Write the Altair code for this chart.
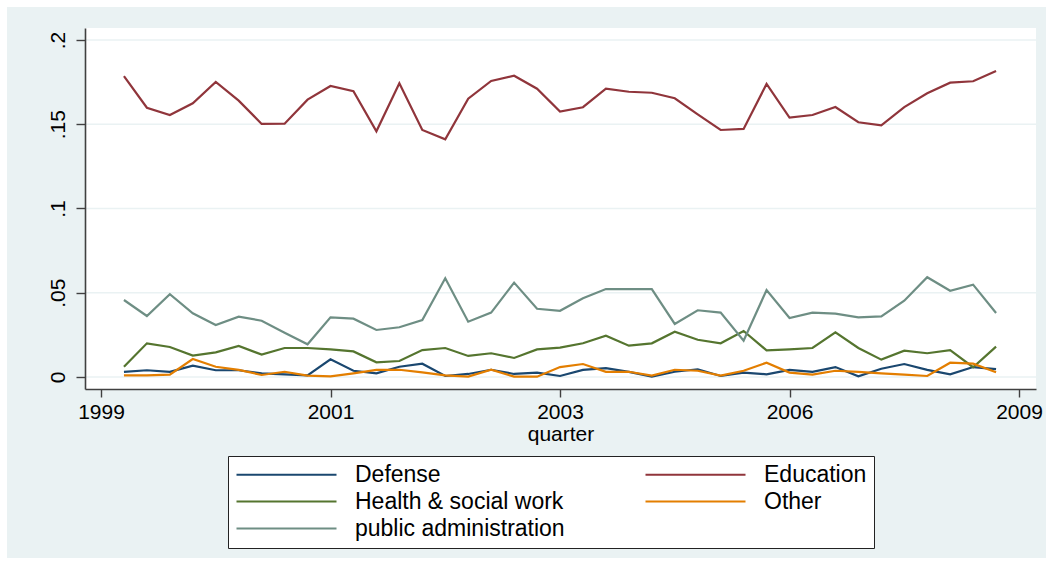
import altair as alt
import pandas as pd

# quarter index (0 = first labelled tick)
quarters = list(range(1, 40))

defense = [0.0031, 0.0040, 0.0031, 0.0067, 0.0040, 0.0040, 0.0022, 0.0016, 0.0010, 0.0105, 0.0037, 0.0022, 0.0061,
           0.0079, 0.0006, 0.0018, 0.0043, 0.0018, 0.0026, 0.0006, 0.0042, 0.0053, 0.0030, 0.0002, 0.0031, 0.0046,
           0.0006, 0.0026, 0.0016, 0.0042, 0.0030, 0.0059, 0.0004, 0.0049, 0.0077, 0.0042, 0.0016, 0.0059, 0.0047]
education = [0.1786, 0.1598, 0.1555, 0.1624, 0.1751, 0.1640, 0.1502, 0.1503, 0.1646, 0.1727, 0.1696, 0.1458, 0.1743,
             0.1466, 0.1411, 0.1652, 0.1757, 0.1788, 0.1711, 0.1575, 0.1601, 0.1711, 0.1693, 0.1687, 0.1654, 0.1559,
             0.1466, 0.1472, 0.1739, 0.1539, 0.1555, 0.1602, 0.1512, 0.1494, 0.1602, 0.1684, 0.1747, 0.1755, 0.1816]
health = [0.0061, 0.0200, 0.0178, 0.0127, 0.0146, 0.0184, 0.0133, 0.0172, 0.0172, 0.0164, 0.0152, 0.0087, 0.0095,
          0.0160, 0.0172, 0.0125, 0.0141, 0.0113, 0.0164, 0.0174, 0.0200, 0.0245, 0.0186, 0.0200, 0.0269, 0.0221,
          0.0200, 0.0273, 0.0158, 0.0164, 0.0172, 0.0265, 0.0172, 0.0103, 0.0156, 0.0141, 0.0160, 0.0058, 0.0180]
other = [0.0010, 0.0010, 0.0014, 0.0107, 0.0061, 0.0042, 0.0012, 0.0031, 0.0008, 0.0004, 0.0022, 0.0042, 0.0043,
         0.0028, 0.0010, 0.0002, 0.0043, 0.0002, 0.0002, 0.0059, 0.0077, 0.0031, 0.0031, 0.0008, 0.0043, 0.0037,
         0.0008, 0.0037, 0.0085, 0.0026, 0.0014, 0.0037, 0.0030, 0.0022, 0.0014, 0.0006, 0.0085, 0.0079, 0.0028]
public_admin = [0.0457, 0.0362, 0.0491, 0.0378, 0.0309, 0.0358, 0.0334, 0.0263, 0.0194, 0.0354, 0.0346, 0.0279, 0.0295,
                0.0338, 0.0586, 0.0328, 0.0382, 0.0560, 0.0405, 0.0393, 0.0467, 0.0522, 0.0522, 0.0522, 0.0315, 0.0396,
                0.0382, 0.0215, 0.0516, 0.0350, 0.0382, 0.0376, 0.0354, 0.0360, 0.0453, 0.0592, 0.0512, 0.0548, 0.0380]

series_names = ["Defense", "Education", "Health & social work", "Other", "public administration"]
series_colors = ["#1a476f", "#90353b", "#55752f", "#e37e00", "#6e8e84"]

x_tick_values = [0, 10, 20, 30, 40]
x_tick_labels = ["1999", "2001", "2003", "2006", "2009"]
y_tick_values = [0, 0.05, 0.1, 0.15, 0.2]
y_tick_labels = ["0", ".05", ".1", ".15", ".2"]

rows = []
for name, vals in zip(series_names, [defense, education, health, other, public_admin]):
    for q, v in zip(quarters, vals):
        rows.append({"quarter": q, "share": v, "sector": name})
df = pd.DataFrame(rows)


def label_expr(values, labels):
    expr = "''"
    for v, l in reversed(list(zip(values, labels))):
        expr = f"abs(datum.value - {v}) < 1e-9 ? '{l}' : ({expr})"
    return expr


FONT = "Liberation Sans"
W, H = 951, 361
xscale = alt.Scale(domain=[-0.697, 40.74], nice=False, zero=False)
yscale = alt.Scale(domain=[-0.00712, 0.20712], nice=False, zero=False)

yaxis = alt.Axis(values=y_tick_values, labelExpr=label_expr(y_tick_values, y_tick_labels),
                 title=None, grid=False, tickSize=9, labelPadding=8, zindex=1,
                 labelAngle=270, labelAlign="center", labelBaseline="bottom",
                 labelFontSize=21, labelFont=FONT, labelColor="black",
                 domainColor="#404040", tickColor="#404040", domainWidth=1.6, tickWidth=1.4,
                 labelFlush=False, labelOverlap=False)
xaxis = alt.Axis(values=x_tick_values, labelExpr=label_expr(x_tick_values, x_tick_labels),
                 title="quarter", grid=False, tickSize=8, labelPadding=4,
                 labelFontSize=21, titleFontSize=21, titlePadding=1,
                 labelFont=FONT, titleFont=FONT, titleFontWeight="normal",
                 labelColor="black", titleColor="black", zindex=1,
                 domainColor="#404040", tickColor="#404040", domainWidth=1.6, tickWidth=1.4,
                 labelFlush=False, labelOverlap=False)

outer = alt.Chart(alt.Data(values=[{}])).mark_rect(fill="#eaf2f3").encode(
    x=alt.value(-78), x2=alt.value(961), y=alt.value(-21), y2=alt.value(530)
)
inner = alt.Chart(alt.Data(values=[{}])).mark_rect(fill="white").encode(
    x=alt.value(0), x2=alt.value(W), y=alt.value(0), y2=alt.value(H)
)
grid = alt.Chart(pd.DataFrame({"v": y_tick_values})).mark_rule(
    color="#eaf2f3", strokeWidth=1.6
).encode(y=alt.Y("v:Q", scale=yscale, axis=yaxis))

lines = alt.Chart(df).mark_line(strokeWidth=2.2).encode(
    x=alt.X("quarter:Q", scale=xscale, axis=xaxis),
    y=alt.Y("share:Q", scale=yscale, axis=yaxis),
    color=alt.Color("sector:N",
                    scale=alt.Scale(domain=series_names, range=series_colors),
                    legend=alt.Legend(orient="none", legendX=143, legendY=428, columns=2,
                                      direction="horizontal",
                                      title=None, symbolType="M-1,0H9", symbolSize=400,
                                      symbolStrokeWidth=2, labelFontSize=23, labelFont=FONT,
                                      labelColor="black", labelLimit=400, labelOffset=97,
                                      columnPadding=76, rowPadding=3, padding=7,
                                      fillColor="white", strokeColor="#222222")),
)

chart = alt.layer(outer, inner, grid, lines).properties(
    width=W, height=H,
    autosize=alt.AutoSizeParams(type="none"),
    padding={"left": 85, "top": 28, "right": 17, "bottom": 176},
    background="white",
).configure_view(stroke=None)

chart.save("out.html", embed_options={"renderer": "svg", "actions": False})
